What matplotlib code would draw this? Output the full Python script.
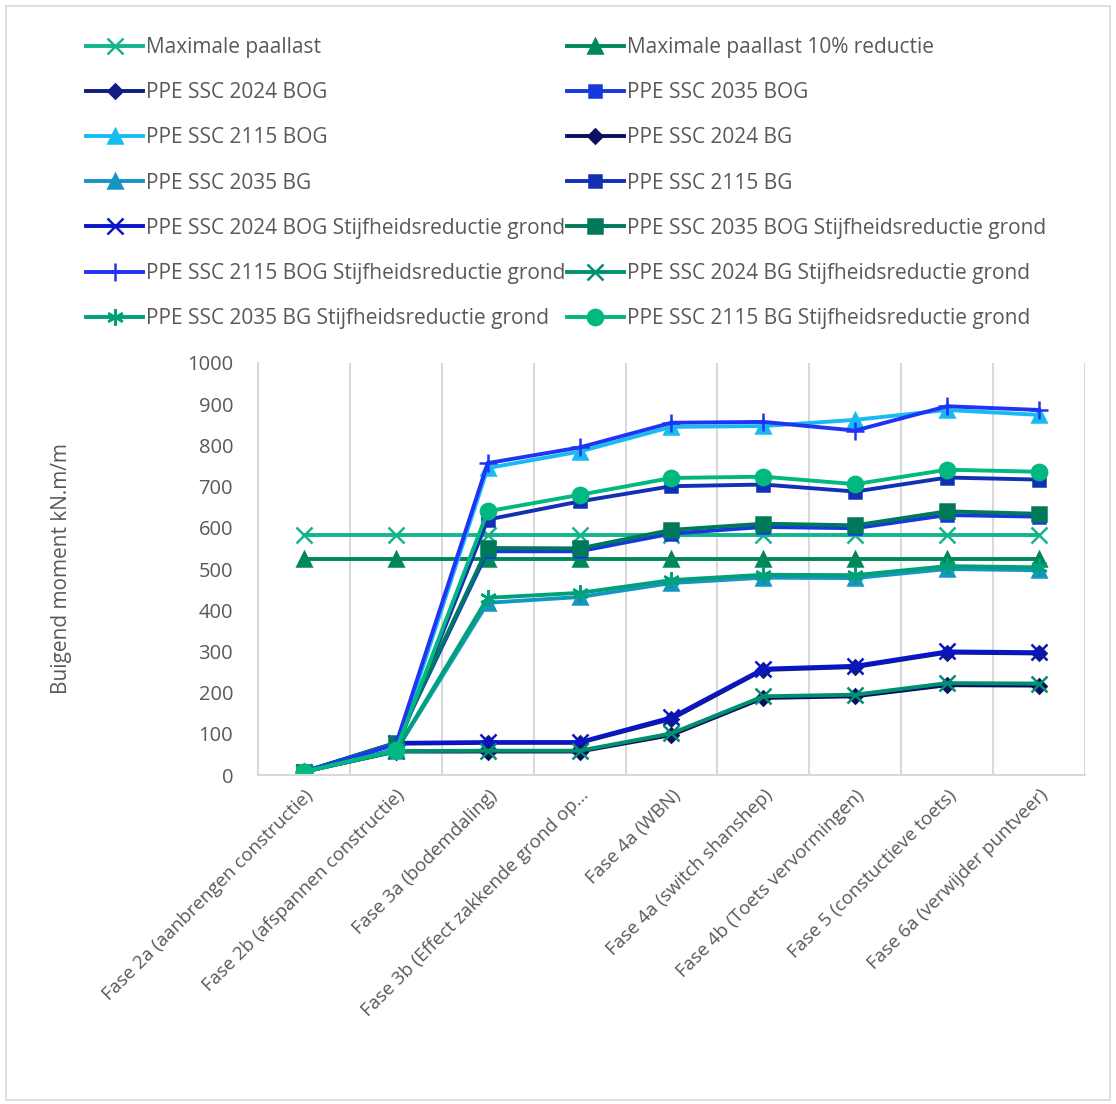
import numpy as np
import matplotlib.pyplot as plt
from matplotlib.patches import Rectangle

plt.rcParams['font.family'] = ['Open Sans', 'DejaVu Sans']

fases = ["Fase 2a (aanbrengen constructie)", "Fase 2b (afspannen constructie)",
         "Fase 3a (bodemdaling)", "Fase 3b (Effect zakkende grond op…",
         "Fase 4a (WBN)", "Fase 4a (switch shanshep)", "Fase 4b (Toets vervormingen)",
         "Fase 5 (constuctieve toets)", "Fase 6a (verwijder puntveer)"]

max_paallast = [583, 583, 583, 583, 583, 583, 583, 583, 583]
max_paallast_10 = [525, 525, 525, 525, 525, 525, 525, 525, 525]
ssc2024_bog = [8, 76, 78, 78, 136, 255, 262, 297, 295]
ssc2035_bog = [8, 76, 543, 543, 586, 602, 599, 631, 627]
ssc2115_bog = [8, 62, 745, 785, 845, 847, 862, 886, 874]
ssc2024_bg = [8, 57, 57, 57, 97, 187, 191, 218, 217]
ssc2035_bg = [8, 58, 418, 432, 466, 479, 478, 500, 497]
ssc2115_bg = [8, 60, 620, 664, 701, 705, 688, 722, 717]
ssc2024_bog_s = [8, 78, 80, 80, 140, 258, 265, 300, 298]
ssc2035_bog_s = [8, 78, 551, 550, 595, 610, 606, 640, 634]
ssc2115_bog_s = [8, 74, 757, 795, 855, 857, 836, 895, 886]
ssc2024_bg_s = [8, 58, 59, 59, 101, 191, 195, 223, 222]
ssc2035_bg_s = [8, 59, 430, 442, 473, 486, 485, 507, 504]
ssc2115_bg_s = [8, 60, 640, 680, 721, 724, 706, 741, 736]

# (label, values, colour, marker, markersize)
series = [
    ("Maximale paallast", max_paallast, '#14B48C', 'x', 11),
    ("Maximale paallast 10% reductie", max_paallast_10, '#00875A', '^', 10),
    ("PPE SSC 2024 BOG", ssc2024_bog, '#0F1C80', 'D', 7),
    ("PPE SSC 2035 BOG", ssc2035_bog, '#1638DC', 's', 9),
    ("PPE SSC 2115 BOG", ssc2115_bog, '#18BBF0', '^', 10),
    ("PPE SSC 2024 BG", ssc2024_bg, '#0A1060', 'D', 7),
    ("PPE SSC 2035 BG", ssc2035_bg, '#1596C2', '^', 10),
    ("PPE SSC 2115 BG", ssc2115_bg, '#1230B4', 's', 9),
    ("PPE SSC 2024 BOG Stijfheidsreductie grond", ssc2024_bog_s, '#0A14C8', 'x', 11),
    ("PPE SSC 2035 BOG Stijfheidsreductie grond", ssc2035_bog_s, '#00785A', 's', 10),
    ("PPE SSC 2115 BOG Stijfheidsreductie grond", ssc2115_bog_s, '#2034F5', '+', 13),
    ("PPE SSC 2024 BG Stijfheidsreductie grond", ssc2024_bg_s, '#00906E', 'x', 11),
    ("PPE SSC 2035 BG Stijfheidsreductie grond", ssc2035_bg_s, '#00A078', (6, 2, 0), 12),
    ("PPE SSC 2115 BG Stijfheidsreductie grond", ssc2115_bg_s, '#00B880', 'o', 11),
]

fig = plt.figure(figsize=(11.16, 11.04), dpi=100)
ax = fig.add_axes([0.2312, 0.2980, 0.7410, 0.3732])

x = np.arange(len(fases))
handles = []
for label, vals, col, mk, ms in series:
    h, = ax.plot(x, vals, color=col, lw=2.8, marker=mk, markersize=ms,
                 markeredgewidth=1.8, markerfacecolor=col, markeredgecolor=col,
                 label=label, solid_joinstyle='miter')
    handles.append(h)

ax.set_xlim(-0.5, len(fases) - 0.5)
ax.set_ylim(0, 1000)
ax.set_yticks(np.arange(0, 1001, 100))
ax.set_xticks(x)
ax.set_xticklabels(fases, rotation=45, ha='right', va='top', rotation_mode='anchor',
                   fontsize=13.5, color='#595959')
ax.tick_params(axis='both', length=0, labelcolor='#595959')
ax.tick_params(axis='y', labelsize=14.5, pad=18)
ax.tick_params(axis='x', pad=8)

# vertical grid lines on the category boundaries
ax.set_xticks(np.arange(-0.5, len(fases), 1.0), minor=True)
ax.grid(which='minor', axis='x', color='#D9D9D9', lw=1.5)
ax.tick_params(which='minor', length=0)
for s in ['top', 'right']:
    ax.spines[s].set_visible(False)
for s in ['left', 'bottom']:
    ax.spines[s].set_color('#D9D9D9')
    ax.spines[s].set_linewidth(1.5)
ax.set_axisbelow(True)

ax.set_ylabel("Buigend moment kN.m/m", fontsize=15, color='#595959')
ax.yaxis.set_label_coords(-0.225, 0.5)

# legend reads row by row in two columns
order = list(range(0, len(handles), 2)) + list(range(1, len(handles), 2))
fig.legend([handles[i] for i in order], [series[i][0] for i in order],
           ncol=2, loc='upper left', bbox_to_anchor=(0.070, 0.974),
           frameon=False, fontsize=15, labelcolor='#595959',
           handlelength=2.7, handletextpad=0.15, columnspacing=0.1,
           labelspacing=1.16, borderaxespad=0)

fig.patches.append(Rectangle((0.005, 0.004), 0.990, 0.991, transform=fig.transFigure,
                             fill=False, edgecolor='#D9D9D9', lw=1.2))

fig.savefig('out.png', dpi=100)
